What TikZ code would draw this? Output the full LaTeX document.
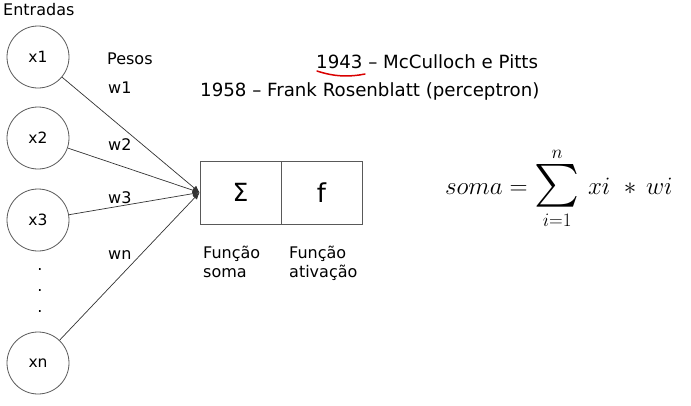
\RequirePackage{fix-cm}
\documentclass[tikz,border=0pt]{standalone}
\usepackage{fontspec}
\usepackage{graphicx}
\setmainfont{DejaVu Sans}
\usetikzlibrary{arrows.meta}
\newcommand{\limtxt}[1]{\mbox{\fontsize{19}{20}\selectfont$#1$}}
\begin{document}
\begin{tikzpicture}[x=1pt,y=-1pt,
  inp/.style={circle,draw=black!65,line width=0.8pt,minimum size=62pt,inner sep=0pt,font=\fontsize{15.5}{18}\selectfont},
  lbl/.style={font=\fontsize{16}{19}\selectfont,inner sep=0pt},
  big/.style={font=\fontsize{18.2}{21}\selectfont,inner sep=0pt,anchor=west},
  conn/.style={draw=black!80,line width=0.7pt,-{Latex[length=7pt,width=6pt]}},
  cell/.style={draw=black!65,line width=0.8pt,minimum width=81pt,minimum height=63pt,inner sep=0pt}]
\useasboundingbox (0,0) rectangle (691,405);
\node[lbl,anchor=west] (ent) at (3,10) {Entradas};
\node[inp] (x1) at (38,57) {x1};
\node[inp] (x2) at (38,138) {x2};
\node[inp] (x3) at (38,220) {x3};
\node[inp] (xn) at (38,363) {xn};
\node[lbl] (d1) at (40,270) {.};
\node[lbl] (d2) at (40,291) {.};
\node[lbl] (d3) at (40,312) {.};
\node[cell] (sum) at (240.5,192.5) {\fontsize{25}{28}\selectfont Σ};
\node[cell] (act) at (321.5,192.5) {\fontsize{26}{28}\selectfont f};
\coordinate (tip) at (sum.west);
\draw[conn] (x1) -- (tip);
\draw[conn] (x2) -- (tip);
\draw[conn] (x3) -- (tip);
\draw[conn] (xn) -- (tip);
\node[lbl,anchor=west] (pesos) at (107,59) {Pesos};
\node[lbl,anchor=west] (w1) at (108,88) {w1};
\node[lbl,anchor=west] (w2) at (108,145) {w2};
\node[lbl,anchor=west] (w3) at (108,198) {w3};
\node[lbl,anchor=west] (wn) at (108,255) {wn};
\node[lbl,anchor=north west,align=left] (fs) at (203,246) {Função\\soma};
\node[lbl,anchor=north west,align=left] (fa) at (289,246) {Função\\ativação};
\node[big] (t1943) at (316,62) {1943 – McCulloch e Pitts};
\node[big] (t1958) at (200,91) {1958 – Frank Rosenblatt (perceptron)};
\draw[red!85!black,line width=1.5pt,line cap=round] (317,71) .. controls (335,77) and (350,77) .. (365,74);
\node[anchor=west,inner sep=0pt] (form) at (445,188) {\fontsize{25}{30}\selectfont$soma=\mathop{\vcenter{\hbox{\resizebox{!}{48pt}{$\sum$}}}}\limits_{\limtxt{i{=}1}}^{\raisebox{4pt}{\limtxt{n}}}\, xi\ \ast\, wi$};
\end{tikzpicture}
\end{document}
